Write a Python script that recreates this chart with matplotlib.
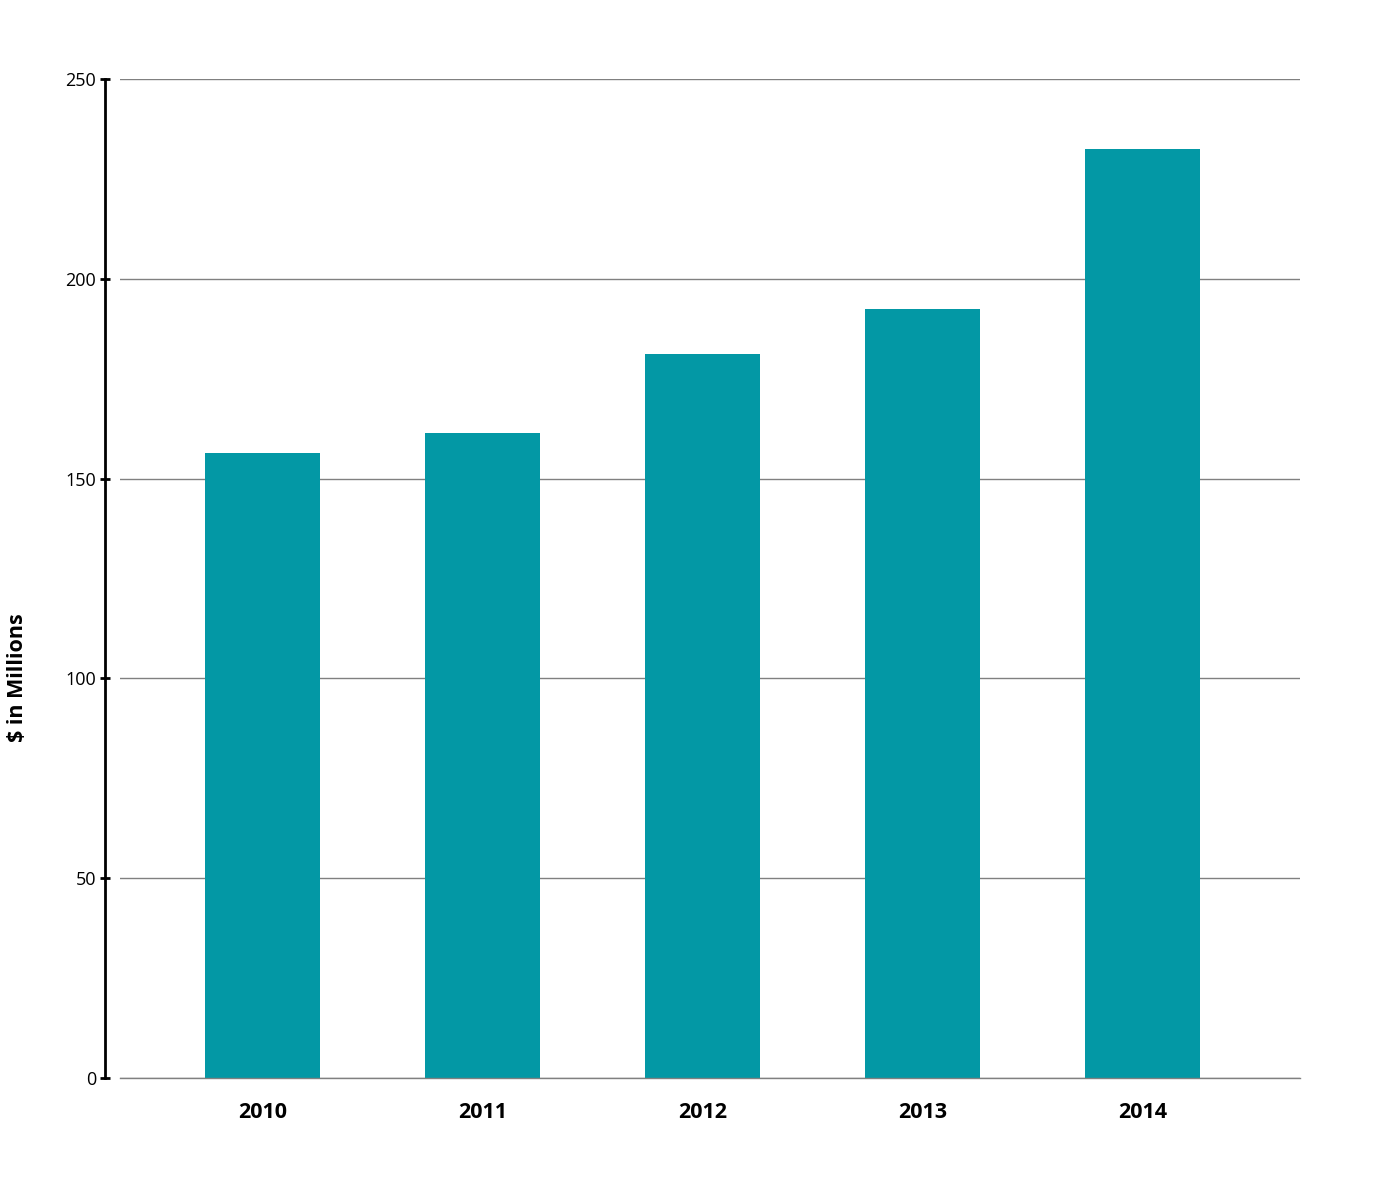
import matplotlib
matplotlib.use("Agg")
import matplotlib.pyplot as plt

years = ["2010", "2011", "2012", "2013", "2014"]
values = [156.4, 161.4, 181.2, 192.4, 232.5]
yticks = [0, 50, 100, 150, 200, 250]

plt.rcParams['font.family'] = ['Open Sans', 'DejaVu Sans']

fig = plt.figure(figsize=(14, 12), dpi=100)
ax = fig.add_axes([120 / 1400, 1 - 1078 / 1200, 1180 / 1400, 999 / 1200])

x = range(len(years))
ax.bar(x, values, width=0.523, color="#0398a5", zorder=3)

ax.set_xlim(-0.648, 4.716)
ax.set_ylim(0, 250)
ax.set_yticks(yticks)
ax.set_xticks(list(x))
ax.set_xticklabels(years, fontsize=15.5, fontweight="bold")
ax.tick_params(axis="x", length=0, pad=17)
ax.tick_params(axis="y", direction="inout", length=7, width=2, labelsize=13, pad=3)

ax.yaxis.grid(True, color="#808080", linewidth=1, zorder=0)
# baseline gridline at 0 sits on the axes edge, draw it unclipped
ax.axhline(0, color="#808080", linewidth=1, zorder=4, clip_on=False)
for s in ["top", "right", "bottom"]:
    ax.spines[s].set_visible(False)
ax.spines["left"].set_position(("outward", 10.8))
ax.spines["left"].set_linewidth(2)

fig.text(18 / 1400, 1 - 678 / 1200, "$ in Millions", rotation=90,
         ha="center", va="center", fontsize=15.5, fontweight="bold")

fig.savefig("out.png", dpi=100)
